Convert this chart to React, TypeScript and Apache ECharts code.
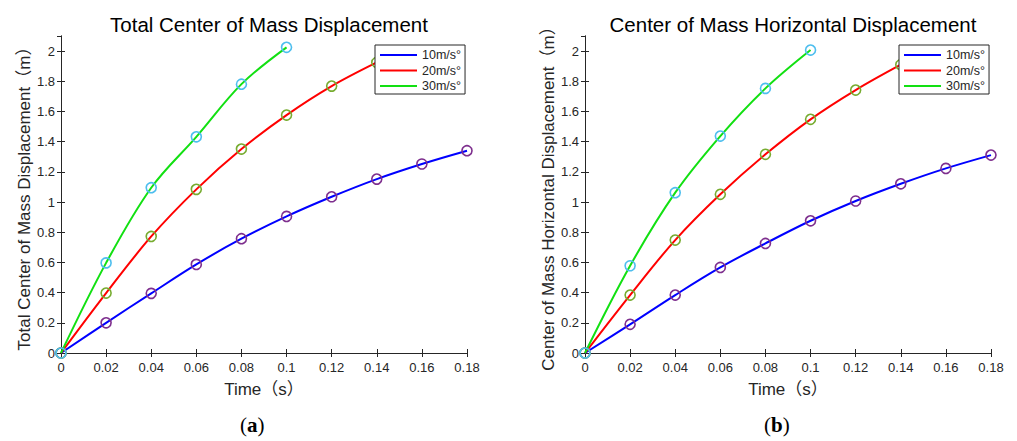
import React, { useEffect, useRef } from "react";
import * as echarts from "echarts";

const seriesNames = ["10m/s°", "20m/s°", "30m/s°"];
const time10 = [0, 0.02, 0.04, 0.06, 0.08, 0.1, 0.12, 0.14, 0.16, 0.18];
const time20 = [0, 0.02, 0.04, 0.06, 0.08, 0.1, 0.12, 0.14];
const time30 = [0, 0.02, 0.04, 0.06, 0.08, 0.1];

// (a) Total Center of Mass Displacement
const totalV10 = [0, 0.2, 0.395, 0.587, 0.757, 0.905, 1.035, 1.152, 1.252, 1.34];
const totalV20 = [0, 0.397, 0.772, 1.084, 1.351, 1.576, 1.768, 1.925];
const totalV30 = [0, 0.597, 1.095, 1.432, 1.781, 2.025];

// (b) Center of Mass Horizontal Displacement
const horizV10 = [0, 0.19, 0.384, 0.567, 0.726, 0.876, 1.007, 1.121, 1.223, 1.311];
const horizV20 = [0, 0.384, 0.748, 1.051, 1.316, 1.548, 1.742, 1.91];
const horizV30 = [0, 0.578, 1.062, 1.437, 1.753, 2.007];

const titles = ["Total Center of Mass Displacement", "Center of Mass Horizontal Displacement"];
const yNames = ["Total Center of Mass Displacement（m）", "Center of Mass Horizontal Displacement（m）"];
const xName = "Time（s）";
const panelLabels = ["a", "b"];

const lineColors = ["#0000ff", "#ff0000", "#12e012"];
const markerColors = ["#7e2f8e", "#77ac30", "#4dbeee"];

const FONT = "'Liberation Sans', Arial, 'Noto Sans CJK SC', sans-serif";
const SERIF = "'Liberation Serif', 'DejaVu Serif', serif";
const AX = "#262626";

const gridLefts = [61, 585];
const labelLefts = [240, 764];
const GRID_TOP = 36;
const GRID_W = 406;
const GRID_H = 317;

export default function App() {
  const ref = useRef<HTMLDivElement>(null);
  useEffect(() => {
    if (!ref.current) return;
    const chart = echarts.init(ref.current, undefined, { renderer: "svg" });

    const panels = [
      { times: [time10, time20, time30], vals: [totalV10, totalV20, totalV30] },
      { times: [time10, time20, time30], vals: [horizV10, horizV20, horizV30] },
    ];

    const grids: any[] = [];
    const xAxes: any[] = [];
    const yAxes: any[] = [];
    const series: any[] = [];
    const legends: any[] = [];
    const titleArr: any[] = [];
    const graphics: any[] = [];

    const baseAxisLine = { show: true, lineStyle: { color: AX, width: 1 } };
    const tick = { show: true, inside: true, length: 4, lineStyle: { color: AX } };

    panels.forEach((p, i) => {
      const left = gridLefts[i];
      grids.push({ left, top: GRID_TOP, width: GRID_W, height: GRID_H, show: true, backgroundColor: "#fff", borderWidth: 0 });
      const xi = i * 2;
      const yi = i * 2;
      xAxes.push({
        type: "value", gridIndex: i, min: 0, max: 0.18, interval: 0.02, position: "bottom",
        axisLine: baseAxisLine, axisTick: tick, splitLine: { show: false },
        axisLabel: { color: AX, fontSize: 13, fontFamily: FONT, margin: 8 },
        name: xName, nameLocation: "middle", nameGap: 28,
        nameTextStyle: { color: AX, fontSize: 17, fontFamily: FONT },
      });
      xAxes.push({
        type: "value", gridIndex: i, min: 0, max: 0.18, interval: 0.02, position: "top",
        axisLine: baseAxisLine, axisTick: tick, splitLine: { show: false }, axisLabel: { show: false },
      });
      yAxes.push({
        type: "value", gridIndex: i, min: 0, max: 2.1, interval: 0.2, position: "left",
        axisLine: baseAxisLine, axisTick: tick, splitLine: { show: false },
        axisLabel: { color: AX, fontSize: 13, fontFamily: FONT, margin: 6, showMaxLabel: false },
        name: yNames[i], nameLocation: "middle", nameGap: 28,
        nameTextStyle: { color: AX, fontSize: 17, fontFamily: FONT },
      });
      yAxes.push({
        type: "value", gridIndex: i, min: 0, max: 2.1, interval: 0.2, position: "right",
        axisLine: baseAxisLine, axisTick: tick, splitLine: { show: false }, axisLabel: { show: false },
      });
      for (let k = 0; k < 3; k++) {
        series.push({
          type: "line", name: seriesNames[k], xAxisIndex: xi, yAxisIndex: yi,
          data: p.times[k].map((t, j) => [t, p.vals[k][j]]),
          smooth: 0.35, symbol: "none", showSymbol: false,
          lineStyle: { color: lineColors[k], width: 2 }, itemStyle: { color: lineColors[k] },
          z: 2,
        });
      }
      for (let k = 0; k < 3; k++) {
        series.push({
          type: "scatter", xAxisIndex: xi, yAxisIndex: yi,
          data: p.times[k].map((t, j) => [t, p.vals[k][j]]),
          symbol: "circle", symbolSize: 10,
          itemStyle: { color: "rgba(0,0,0,0)", borderColor: markerColors[k], borderWidth: 1.6, opacity: 1 },
          z: 3, silent: true,
        });
      }
      legends.push({
        data: seriesNames.map((n, k) => ({ name: n, icon: "rect", itemStyle: { color: lineColors[k] } })),
        orient: "vertical", left: left + 314, top: 45,
        backgroundColor: "#fff", borderColor: AX, borderWidth: 1, borderRadius: 0,
        padding: [3, 4, 1, 5], itemGap: 1.5, itemWidth: 37, itemHeight: 2,
        textStyle: { color: AX, fontSize: 12.5, fontFamily: FONT, lineHeight: 14, height: 14 },
        selectedMode: false, z: 10,
      });
      titleArr.push({
        text: titles[i], left: left + GRID_W / 2, top: 9, textAlign: "center",
        textStyle: { color: "#000", fontSize: 20.5, fontWeight: "normal", fontFamily: FONT },
      });
      graphics.push({
        type: "text", left: labelLefts[i], top: 414,
        style: {
          text: "{p|(}{b|" + panelLabels[i] + "}{p|)}",
          rich: {
            p: { fontSize: 21, fontFamily: SERIF, fill: "#000" },
            b: { fontSize: 21, fontWeight: "bold", fontFamily: SERIF, fill: "#000" },
          },
        },
      });
    });

    chart.setOption({
      animation: false,
      backgroundColor: "#fff",
      title: titleArr,
      grid: grids,
      xAxis: xAxes,
      yAxis: yAxes,
      legend: legends,
      series,
      graphic: graphics,
    });
    return () => chart.dispose();
  }, []);
  return <div ref={ref} style={{ width: 1017, height: 441, position: "absolute", left: 0, top: 0 }} />;
}
